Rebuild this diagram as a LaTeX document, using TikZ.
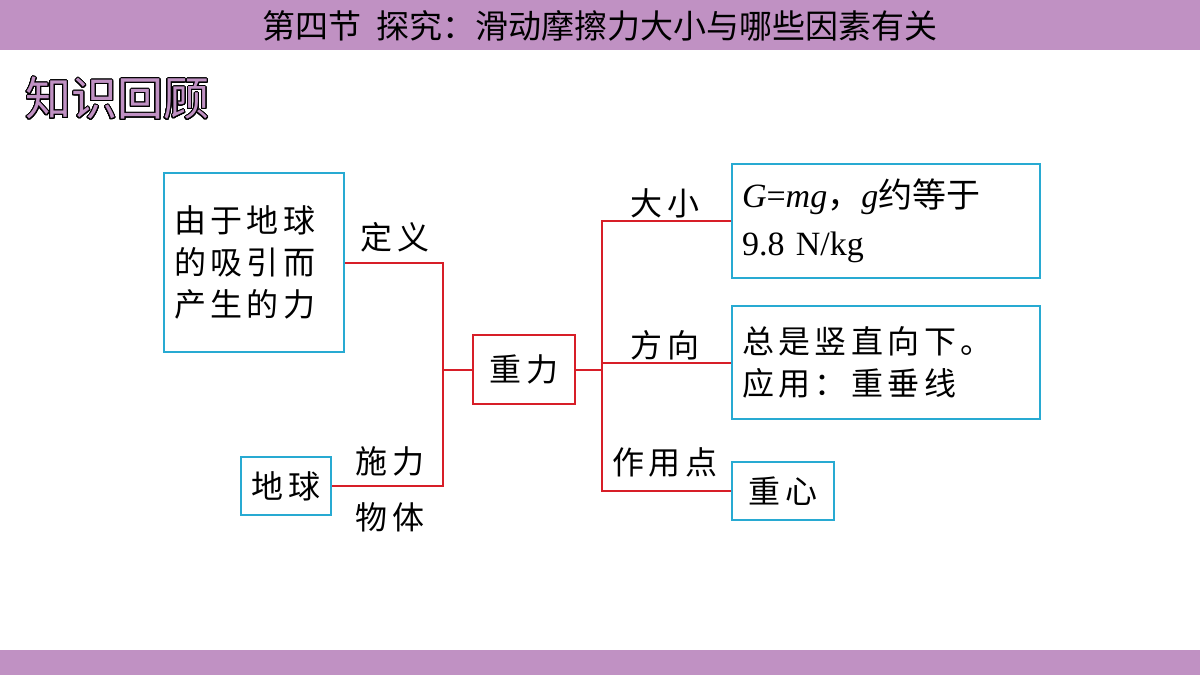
\documentclass[tikz,border=0pt]{standalone}
\usepackage{fontspec}
\setmainfont{Liberation Serif}
\newfontfamily\cjk{Noto Sans CJK SC}
\newfontfamily\cjks[LetterSpace=14]{Noto Sans CJK SC}
\usepackage{contour}
\contourlength{0.5pt}
\contournumber{32}
\definecolor{barpurple}{RGB}{192,145,195}
\definecolor{boxcyan}{RGB}{40,170,210}
\definecolor{linered}{RGB}{215,30,40}
\tikzset{
  cbox/.style={draw=boxcyan,line width=1pt,inner sep=0pt,anchor=north west,font=\cjks\fontsize{16}{21}\selectfont},
  rbox/.style={draw=linered,line width=1pt,inner sep=0pt,anchor=north west,font=\cjks\fontsize{16}{21}\selectfont},
  lbl/.style={inner sep=0pt,font=\cjks\fontsize{16}{21}\selectfont},
  rline/.style={draw=linered,line width=1pt}
}
\begin{document}
\begin{tikzpicture}[x=0.5pt,y=-0.5pt]
\useasboundingbox (0,0) rectangle (1200,675);
%bars
\fill[barpurple] (0,0) rectangle (1200,50);
\fill[barpurple] (0,650) rectangle (1200,675);
\node[lbl,font=\cjk\fontsize{16.5}{18}\selectfont] (title) at (600,26) {第四节\ \ 探究：滑动摩擦力大小与哪些因素有关};
\node[lbl,anchor=west,font=\cjk\fontsize{23}{26}\selectfont,text=barpurple] (head) at (25,99) {\contour{black}{知识回顾}};
%boxes
\node[cbox,minimum width=90pt,minimum height=89.5pt,align=left,text width=80pt] (def) at (163,172) {由于地球\\的吸引而\\产生的力};
\node[cbox,minimum width=45pt,minimum height=29pt] (earth) at (240,456) {地球};
\node[rbox,minimum width=51pt,minimum height=34.5pt] (grav) at (472,334) {重力};
\node[cbox,minimum width=154pt,minimum height=57pt,align=left,text width=144pt,font=\cjk\fontsize{17}{24}\selectfont] (size) at (731,163) {\fontspec{Liberation Serif}\textit{G}=\textit{mg}\cjk，\fontspec{Liberation Serif}\textit{g}\cjk 约等于\\\fontspec{Liberation Serif}9.8 N/kg};
\node[cbox,minimum width=154pt,minimum height=56.5pt,align=left,text width=144pt] (dir) at (731,305) {总是竖直向下。\\应用：重垂线};
\node[cbox,minimum width=51pt,minimum height=29pt] (cg) at (731,461) {重心};
%connectors
\coordinate (lj) at (443,0);
\coordinate (rj) at (602,0);
\draw[rline] (def.east) -- (def.east -| lj) -- (earth.east -| lj) -- (earth.east);
\draw[rline] (grav.west -| lj) -- (grav.west);
\draw[rline] (grav.east) -- (grav.east -| rj);
\draw[rline] (size.west) -- (size.west -| rj) -- (cg.west -| rj) -- (cg.west);
\draw[rline] (dir.west -| rj) -- (dir.west);
%labels
\node[lbl] (l1) at (395,237) {定义};
\node[lbl] (l2) at (390,461) {施力};
\node[lbl] (l3) at (390,517) {物体};
\node[lbl] (l4) at (665,203) {大小};
\node[lbl] (l5) at (665,345) {方向};
\node[lbl] (l6) at (665,462) {作用点};
\end{tikzpicture}
\end{document}
